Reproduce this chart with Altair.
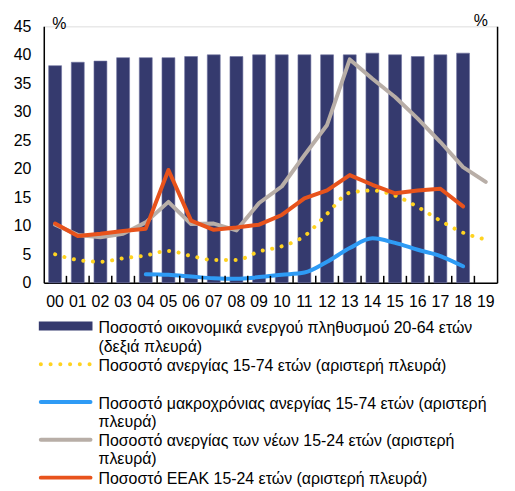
import altair as alt
import pandas as pd

years = ["00", "01", "02", "03", "04", "05", "06", "07", "08", "09",
         "10", "11", "12", "13", "14", "15", "16", "17", "18", "19"]
active = [38.1, 38.7, 38.9, 39.5, 39.5, 39.5, 39.7, 40.0, 39.7, 40.0,
          40.0, 40.0, 40.0, 40.0, 40.3, 40.0, 39.7, 40.0, 40.3, None]
unemp = [5.0, 4.0, 3.7, 4.3, 4.8, 5.6, 4.7, 4.0, 4.0, 5.5,
         6.4, 8.2, 12.1, 15.8, 16.2, 15.3, 13.3, 10.9, 8.8, 7.6]
longterm = [None, None, None, None, 1.5, 1.4, 1.1, 0.8, 0.7, 1.0,
            1.4, 1.8, 3.7, 6.1, 7.8, 7.0, 5.8, 4.7, 2.9, None]
youth = [10.2, 8.4, 8.0, 8.6, 10.6, 14.2, 10.3, 10.4, 9.2, 14.0,
         16.9, 22.4, 27.7, 39.2, 35.8, 32.6, 28.8, 24.7, 20.3, 17.7]
neet = [10.4, 8.2, 8.6, 9.1, 9.5, 19.8, 10.9, 9.3, 9.7, 10.2,
        11.9, 14.8, 16.2, 18.9, 17.2, 15.7, 16.2, 16.5, 13.4, None]

leg_active = ["Ποσοστό οικονομικά ενεργού πληθυσμού 20-64 ετών", "(δεξιά πλευρά)"]
leg_unemp = ["Ποσοστό ανεργίας 15-74 ετών (αριστερή πλευρά)"]
leg_long = ["Ποσοστό μακροχρόνιας ανεργίας 15-74 ετών (αριστερή", "πλευρά)"]
leg_youth = ["Ποσοστό ανεργίας των νέων 15-24 ετών (αριστερή", "πλευρά)"]
leg_neet = ["Ποσοστό ΕΕΑΚ 15-24 ετών (αριστερή πλευρά)"]

C_BAR = "#353a6e"
C_YEL = "#ffd320"
C_BLUE = "#2e9bf5"
C_GRAY = "#b8aea7"
C_RED = "#e8531c"

W, H = 456, 258
FONT = "Liberation Sans"


def frame(vals):
    return pd.DataFrame({"year": [y for y, v in zip(years, vals) if v is not None],
                         "v": [v for v in vals if v is not None]})


xscale = alt.Scale(domain=years, paddingInner=0, paddingOuter=0)
xaxis = alt.Axis(title=None, labelAngle=0, ticks=False, labelFontSize=16,
                 labelPadding=11, labelColor="black", labelFont=FONT,
                 domainColor="black", domainWidth=1.5)
xenc = alt.X("year:N", scale=xscale, axis=xaxis)

yscale = alt.Scale(domain=[0, 45], nice=False, zero=True)
axisL = alt.Axis(title="%", titleAngle=0, titleAlign="left", titleBaseline="alphabetic",
                 titleX=8, titleY=2, titleFontSize=16, titleFontWeight="normal",
                 titleFont=FONT, titleColor="black",
                 values=[0, 5, 10, 15, 20, 25, 30, 35, 40, 45], ticks=False, grid=False,
                 labelFontSize=16, labelPadding=13, labelColor="black", labelFont=FONT,
                 domainColor="black", domainWidth=1.5)
axisR = alt.Axis(orient="right", title="%", titleAngle=0, titleAlign="left",
                 titleBaseline="alphabetic", titleX=-24, titleY=-1, titleFontSize=16,
                 titleFontWeight="normal", titleFont=FONT, titleColor="black",
                 labels=False, ticks=False, grid=False, domainColor="black", domainWidth=1.5)

bars = alt.Chart(frame(active)).mark_bar(width=13, color=C_BAR, stroke="#6f73a0",
                                         strokeWidth=0.6).encode(
    x=xenc, y=alt.Y("v:Q", scale=yscale, axis=axisR))

yL = alt.Y("v:Q", scale=yscale, axis=axisL)

l_unemp = alt.Chart(frame(unemp)).mark_line(
    color=C_YEL, strokeWidth=4, strokeCap="round", strokeDash=[0.1, 9.6],
    interpolate="monotone").encode(x=xenc, y=yL)
l_long = alt.Chart(frame(longterm)).mark_line(
    color=C_BLUE, strokeWidth=4, strokeCap="round", interpolate="monotone").encode(x=xenc, y=yL)
l_youth = alt.Chart(frame(youth)).mark_line(
    color=C_GRAY, strokeWidth=4, strokeCap="round", strokeJoin="round").encode(x=xenc, y=yL)
l_neet = alt.Chart(frame(neet)).mark_line(
    color=C_RED, strokeWidth=4, strokeCap="round", strokeJoin="round").encode(x=xenc, y=yL)

ticks = alt.Chart(pd.DataFrame({"year": years[1:]})).mark_rule(
    color="black", strokeWidth=1.5).encode(
    x=alt.X("year:N", bandPosition=0, scale=xscale, axis=xaxis),
    y=alt.value(H - 7), y2=alt.value(H))

lines = alt.layer(l_unemp, l_long, l_youth, l_neet)

main = alt.layer(bars, lines, ticks).resolve_scale(y="independent")

one = pd.DataFrame({"k": [0]})


def legtext(lines_, ybase):
    return alt.Chart(one).mark_text(
        align="left", baseline="alphabetic", fontSize=16, font=FONT, color="black",
        lineHeight=18.5).encode(
        x=alt.value(55), y=alt.value(ybase),
        text=alt.value(lines_ if len(lines_) > 1 else lines_[0]))


def legline(color, ypos, dash=None):
    kw = dict(color=color, strokeWidth=4, strokeCap="round")
    if dash:
        kw["strokeDash"] = dash
    return alt.Chart(one).mark_rule(**kw).encode(
        x=alt.value(-3), x2=alt.value(47), y=alt.value(ypos))


leg_rect = alt.Chart(one).mark_rect(color=C_BAR).encode(
    x=alt.value(-5), x2=alt.value(49), y=alt.value(297), y2=alt.value(306))

legend = alt.layer(
    leg_rect, legtext(leg_active, 309),
    legline(C_YEL, 340, [0.1, 9.7]), legtext(leg_unemp, 347),
    legline(C_BLUE, 378), legtext(leg_long, 385),
    legline(C_GRAY, 416), legtext(leg_youth, 422),
    legline(C_RED, 454), legtext(leg_neet, 460),
)

chart = alt.layer(main, legend).properties(
    width=W, height=H,
    autosize=alt.AutoSizeParams(type="none"),
    padding={"left": 36, "top": 17, "right": 10, "bottom": 208},
).configure_view(stroke=None).configure(background="white")

chart.save("out.html", embed_options={"renderer": "svg", "actions": False})
